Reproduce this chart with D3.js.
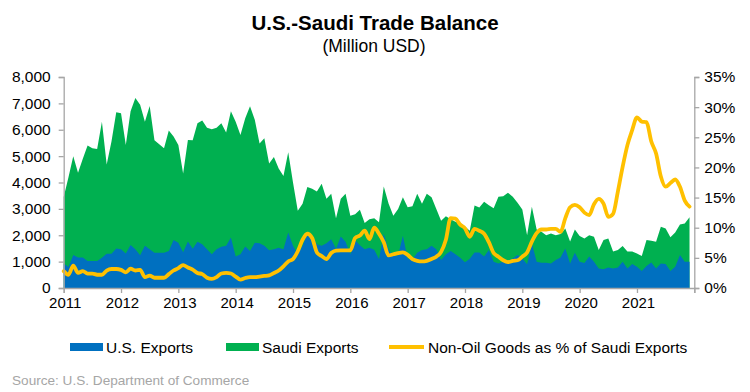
<!DOCTYPE html>
<html><head><meta charset="utf-8">
<script src="https://cdn.jsdelivr.net/npm/d3@7"></script>
<style>
html,body{margin:0;padding:0;background:#fff;}
svg{display:block;font-family:"Liberation Sans",Arial,sans-serif;}
</style></head>
<body><svg id="c" width="750" height="392"></svg>
<script>
const years = ["2011","2012","2013","2014","2015","2016","2017","2018","2019","2020","2021"];
const leftTicks = [0,1000,2000,3000,4000,5000,6000,7000,8000];
const rightTicks = [0,5,10,15,20,25,30,35];
// monthly, Jan 2011 - Dec 2021 (million USD)
const saudiExports = [3450,4200,5000,4370,4900,5400,5300,5270,6300,4680,5550,6660,
6630,5420,6700,7200,6950,6300,6900,5600,5450,5300,5970,5740,
5420,4340,5610,5600,6250,6350,6080,6020,6080,6250,5900,6700,
6300,5800,6440,6890,6380,5480,5680,4720,4970,4530,4250,5150,
4000,2930,3190,3830,3760,3660,3950,3380,3570,2640,3380,3570,
2740,2800,2970,2460,2610,2640,2490,3850,3200,2740,3000,3440,
3060,3100,3570,3190,3570,3440,3000,2550,2720,2610,2510,2460,
2330,2170,3130,3050,3270,3140,3020,3460,3480,3610,3460,3230,
2980,2000,3080,2220,2130,2000,2070,2000,2050,2260,1760,2220,
1970,1880,2000,1940,1440,1820,1880,1380,1440,1590,1380,1380,
1310,1210,1820,1790,1750,2320,2260,1920,2100,2410,2450,2680];
const usExports = [930,800,1250,1160,1160,1020,1020,1020,1150,1300,1300,1500,
1470,1310,1630,1470,1240,1600,1470,1340,1340,1340,1400,1820,
1720,1360,1760,1490,1750,1660,1470,1280,1470,1560,1600,1910,
1190,1280,1570,1400,1720,1700,1600,1430,1470,1530,1470,2100,
1600,1280,1600,2080,1980,1660,1600,1700,1850,1490,1950,1750,
1280,1820,1620,1470,1530,1450,1100,2050,1470,1210,1240,1980,
1110,1080,1340,1440,1470,1600,1470,1060,1280,1400,1280,1150,
980,1110,1350,1350,1190,1440,1000,930,1000,1030,1120,1250,
1120,900,1690,1000,960,960,930,1060,1160,1500,930,1340,
1000,950,1190,1000,740,710,780,740,780,1000,740,910,
810,640,830,970,740,930,910,640,810,1250,1000,1000];
const nonOilPct = [2.8,2.2,3.7,2.5,2.8,2.4,2.4,2.2,2.2,2.9,3.15,3.15,
3.0,2.6,3.2,2.9,3.0,1.8,2.05,1.7,1.7,1.7,2.3,2.9,
3.3,3.8,3.4,3.05,2.5,2.3,1.7,1.5,1.8,2.4,2.5,2.4,
1.9,1.4,1.66,1.8,1.8,1.9,2.0,2.1,2.5,2.9,3.6,4.4,
4.8,6.1,8.0,9.0,8.3,5.9,5.3,4.8,5.8,6.2,6.25,6.25,
6.25,8.3,8.7,9.5,8.1,10.0,9.0,7.6,5.4,5.6,5.8,5.9,
5.5,4.8,4.5,4.4,4.5,4.8,5.2,6.0,8.0,11.6,11.5,10.5,
9.9,8.5,9.8,9.5,9.0,7.6,5.8,5.2,4.6,4.3,4.5,4.6,
5.2,5.9,7.7,9.1,9.7,9.7,9.8,9.8,9.3,11.6,13.4,13.8,
13.4,12.5,12.1,13.9,14.8,14.0,11.8,12.3,16.0,20.1,23.7,26.2,
28.3,27.6,27.5,24.3,22.3,18.5,16.8,17.4,18.0,16.8,14.5,13.5];
const seriesNames = ["U.S. Exports","Saudi Exports","Non-Oil Goods as % of Saudi Exports"];
const colors = {us:"#0070C0", sa:"#00B050", pct:"#FFC000"};

const svg = d3.select("#c");
const L=63.7, R=694.3, T=77, B=288;
const x = d3.scaleLinear().domain([0,132]).range([L,R]);
const y = d3.scaleLinear().domain([0,8000]).range([B,T]);
const y2 = d3.scaleLinear().domain([0,35]).range([B,T]);
const axisCol="#a6a6a6", textCol="#000";

// title
svg.append("text").attr("x",375).attr("y",30).attr("text-anchor","middle")
  .attr("font-size",20.5).attr("font-weight","bold").attr("fill","#000").text("U.S.-Saudi Trade Balance");
svg.append("text").attr("x",374).attr("y",52).attr("text-anchor","middle")
  .attr("font-size",17.5).attr("fill","#000").text("(Million USD)");

// areas
const idx = d3.range(132);
const areaSa = d3.area().x(i=>x(i)).y0(B).y1(i=>y(saudiExports[i]));
const areaUs = d3.area().x(i=>x(i)).y0(B).y1(i=>y(usExports[i]));
svg.append("path").attr("d",areaSa(idx)).attr("fill",colors.sa);
svg.append("path").attr("d",areaUs(idx)).attr("fill",colors.us);
const line = d3.line().x(i=>x(i)).y(i=>y2(nonOilPct[i])).curve(d3.curveMonotoneX);
svg.append("path").attr("d",line(idx)).attr("fill","none").attr("stroke",colors.pct)
  .attr("stroke-width",3.8).attr("stroke-linejoin","round").attr("stroke-linecap","round");

// axes
const fmt = d3.format(",");
const gL = svg.append("g").attr("transform",`translate(${L},0)`)
  .call(d3.axisLeft(y).tickValues(leftTicks).tickFormat(fmt).tickSize(5).tickPadding(8));
const gR = svg.append("g").attr("transform",`translate(${R},0)`)
  .call(d3.axisRight(y2).tickValues(rightTicks).tickFormat(d=>d+"%").tickSize(5).tickPadding(5));
const gB = svg.append("g").attr("transform",`translate(0,${B})`)
  .call(d3.axisBottom(x).tickValues(d3.range(0,133,12)).tickFormat(d=>years[d/12]||"").tickSize(5).tickPadding(4));
[gL,gR,gB].forEach(g=>{
  g.select(".domain").attr("stroke",axisCol).attr("stroke-width",1.3);
  g.selectAll(".tick line").attr("stroke",axisCol).attr("stroke-width",1.3);
  g.selectAll(".tick text").attr("fill",textCol).attr("font-size",15.5)
   .attr("font-family","'Liberation Sans',Arial,sans-serif");
});
gB.selectAll(".tick text").attr("font-size",15).attr("dx",1);

// legend
const lg = svg.append("g");
const ly = 347;
lg.append("rect").attr("x",70).attr("y",ly-4).attr("width",33).attr("height",8).attr("fill",colors.us);
lg.append("text").attr("x",106).attr("y",ly+5.5).attr("font-size",15.5).text(seriesNames[0]);
lg.append("rect").attr("x",226).attr("y",ly-4).attr("width",33).attr("height",8).attr("fill",colors.sa);
lg.append("text").attr("x",262).attr("y",ly+5.5).attr("font-size",15.5).text(seriesNames[1]);
lg.append("line").attr("x1",389).attr("x2",424).attr("y1",ly).attr("y2",ly).attr("stroke",colors.pct).attr("stroke-width",3.8);
lg.append("text").attr("x",428).attr("y",ly+5.5).attr("font-size",15.5).text(seriesNames[2]);

svg.append("text").attr("x",12).attr("y",385).attr("font-size",13.6).attr("fill","#a6a6a6")
  .text("Source: U.S. Department  of Commerce");
</script></body></html>
